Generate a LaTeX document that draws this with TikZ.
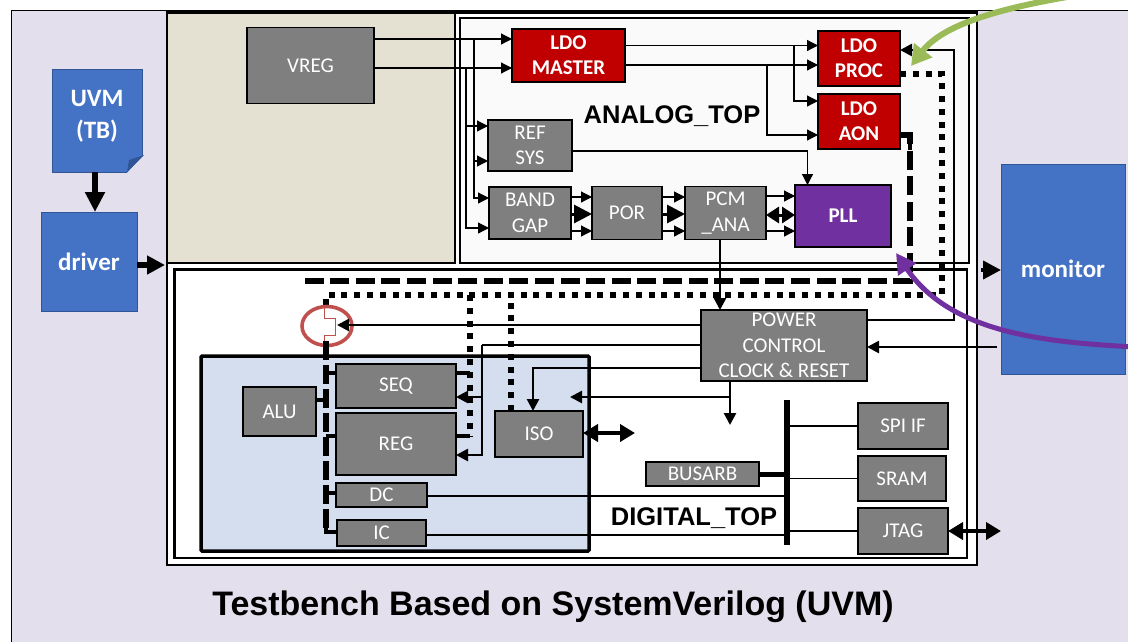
\documentclass[tikz,border=0pt]{standalone}
\usepackage{xcolor}
\usepackage{tikz}
\usepackage{fontspec}
\setmainfont{Carlito}
\newfontfamily\arialfont{Liberation Sans}
\definecolor{tblavender}{RGB}{228, 223, 236}
\definecolor{vregtan}{RGB}{228, 225, 210}
\definecolor{corepale}{RGB}{213, 222, 238}
\definecolor{boxgray}{RGB}{127, 127, 127}
\definecolor{ldored}{RGB}{192, 0, 0}
\definecolor{pllpurple}{RGB}{112, 48, 160}
\definecolor{uvmblue}{RGB}{68, 114, 196}
\definecolor{uvmedge}{RGB}{47, 85, 151}
\definecolor{ringred}{RGB}{192, 80, 77}
\definecolor{notegreen}{RGB}{155, 187, 89}
\usetikzlibrary{shapes.geometric, arrows.meta, positioning}

\begin{document}
\begin{tikzpicture}[
    x=1pt, y=-1pt,
    node distance=8pt,
    greybox/.style={rectangle, draw=black, fill=boxgray, line width=1.8pt,
                    inner sep=0pt, outer sep=0pt, align=center, text=white,
                    font=\fontsize{21}{25.5}\selectfont},
    ldobox/.style={greybox, fill=ldored, font=\fontsize{21}{25}\selectfont\bfseries},
    uvmbox/.style={rectangle, draw=uvmedge, fill=uvmblue, line width=1pt,
                   inner sep=0pt, outer sep=0pt, align=center, text=white,
                   font=\fontsize{25}{32}\selectfont\bfseries},
    framebox/.style={rectangle, draw=black, line width=2.6pt},
    toplabel/.style={inner sep=0pt, font=\arialfont\fontsize{25.5}{30}\selectfont\bfseries},
    wire/.style={line width=1.2pt, -{Triangle[length=11pt,width=11pt]}},
    plainwire/.style={line width=1.2pt},
    midwire/.style={line width=2.6pt, -{Triangle[length=12pt,width=12pt]}},
    fatwire/.style={line width=4pt, -{Triangle[length=18pt,width=18pt]}},
    fatboth/.style={line width=4pt, {Triangle[length=15pt,width=17pt]}-{Triangle[length=15pt,width=17pt]}},
    dashbus/.style={line width=5.5pt, dash pattern=on 19pt off 6.6pt},
    dotbus/.style={line width=5.5pt, dash pattern=on 6pt off 6.8pt},
    stub/.style={line width=4pt}
]
    \path[use as bounding box, clip] (0,0) rectangle (1128,641);
    % frames
    \path[fill=tblavender, draw=black, line width=1pt] (11,10) rectangle (1150,660);
    \path[framebox, fill=white] (167,12.5) rectangle (977,565);
    \path[framebox, fill=vregtan, line width=2pt] (167,13) rectangle (455,263);
    \path[framebox, fill=white!98!black] (460,18) rectangle (969,263);
    \path[framebox, fill=white] (174.5,269.5) rectangle (967,558);
    \path[framebox, fill=corepale, line width=3.5pt, rounded corners=1pt] (201,356) rectangle (589,551);

    % analog blocks
    \node[greybox, minimum width=127pt, minimum height=76pt] (vreg) at (310.5,65.5) {VREG};
    \node[ldobox, minimum width=113pt, minimum height=53pt] (ldomaster) at (568.5,55.5) {LDO\\MASTER};
    \node[ldobox, minimum width=82pt, minimum height=55pt] (ldoproc) at (859,58.5) {LDO\\PROC};
    \node[ldobox, minimum width=82pt, minimum height=55pt, below=8pt of ldoproc] (ldoaon) {LDO\\AON};
    \node[greybox, minimum width=84pt, minimum height=51pt] (refsys) at (530,145.5) {REF\\SYS};
    \node[greybox, minimum width=82pt, minimum height=52pt] (bandgap) at (530,213) {BAND\\GAP};
    \node[greybox, minimum width=70pt, minimum height=53pt, right=21pt of bandgap] (por) {POR};
    \node[greybox, minimum width=81pt, minimum height=53pt, right=23pt of por] (pcmana) {PCM\\\_ANA};
    \node[greybox, fill=pllpurple, minimum width=96pt, minimum height=62pt,
          font=\fontsize{21}{25}\selectfont\bfseries] (pll) at (843,216) {PLL};
    \node[toplabel] (analogtop) at (672,116) {ANALOG\_TOP};

    % digital blocks
    \node[greybox, minimum width=166pt, minimum height=71pt] (power) at (784,345.5) {POWER\\CONTROL\\CLOCK \& RESET};
    \node[greybox, minimum width=73pt, minimum height=49pt] (alu) at (279.5,411.5) {ALU};
    \node[greybox, minimum width=120pt, minimum height=44pt] (seq) at (396,386) {SEQ};
    \node[greybox, minimum width=120pt, minimum height=62pt] (reg) at (396,444) {REG};
    \node[greybox, minimum width=91pt, minimum height=24pt] (dc) at (381.5,495) {DC};
    \node[greybox, minimum width=89pt, minimum height=26pt] (ic) at (381.5,533) {IC};
    \node[greybox, minimum width=88pt, minimum height=46pt] (iso) at (539,434) {ISO};
    \node[greybox, minimum width=113pt, minimum height=24pt] (busarb) at (702.5,474) {BUSARB};
    \node[greybox, minimum width=90pt, minimum height=46pt] (spi) at (903,426) {SPI IF};
    \node[greybox, minimum width=88pt, minimum height=45pt] (sram) at (902,478.5) {SRAM};
    \node[greybox, minimum width=90pt, minimum height=46pt] (jtag) at (903,531) {JTAG};
    \node[toplabel] (digitaltop) at (694,518.5) {DIGITAL\_TOP};
    \coordinate (bustop) at (787,400);
    \coordinate (busend) at (787,545);

    % testbench blocks
    \node[uvmbox, minimum width=90pt, minimum height=103pt, text depth=12pt] (uvm) at (97,120.5) {UVM\\(TB)};
    \path[fill=tblavender] (127,173) -- (143.5,173) -- (143.5,155) -- cycle;
    \path[fill=uvmedge] (127,172) -- (129,160) -- (144,155) -- cycle;
    \node[uvmbox, minimum width=96pt, minimum height=99pt] (driver) at (89,261.5) {driver};
    \node[uvmbox, minimum width=124pt, minimum height=210pt] (monitor) at (1063,269) {monitor};
    \node[inner sep=0pt, font=\arialfont\fontsize{34}{40}\selectfont\bfseries] (title) at (553,607) {Testbench Based on SystemVerilog (UVM)};

    % vreg to analog
    \coordinate (tapa) at (474,39);
    \coordinate (tapb) at (466,68);
    \draw[wire] (vreg.east |- tapa) -- (ldomaster.west |- tapa);
    \draw[wire] (vreg.east |- tapb) -- (ldomaster.west |- tapb);
    \draw[wire] (tapa) |- (refsys.west |- 0,161);
    \draw[wire] (tapa) |- (bandgap.west |- 0,198);
    \draw[wire] (tapb) |- (refsys.west |- 0,126);
    \draw[wire] (tapb) |- (bandgap.west |- 0,228);

    % ldo feeds
    \coordinate (tapc) at (794,45.5);
    \coordinate (tapd) at (767,65);
    \draw[wire] (ldomaster.east |- tapc) -- (ldoproc.west |- tapc);
    \draw[wire] (ldomaster.east |- tapd) -- (ldoproc.west |- tapd);
    \draw[wire] (tapc) |- (ldoaon.west |- 0,101);
    \draw[wire] (tapd) |- (ldoaon.west |- 0,135);
    \draw[wire] (refsys.east |- 0,151) -| (pll.north -| 807.5,0);

    % analog chain
    \foreach \from/\to in {bandgap/por, por/pcmana}{
        \draw[wire] (\from.east |- 0,197) -- (\to.west |- 0,197);
        \draw[wire] (\from.east |- 0,231) -- (\to.west |- 0,231);
        \draw[line width=3pt, -{Triangle[length=18pt,width=18pt]}] (\from.east |- 0,214) -- (\to.west |- 0,214);
    }
    \draw[wire] (pcmana.east |- 0,196) -- (pll.west |- 0,196);
    \draw[wire] (pcmana.east |- 0,231) -- (pll.west |- 0,231);
    \draw[line width=3pt, {Triangle[length=13pt,width=16pt]}-{Triangle[length=13pt,width=16pt]}] (pcmana.east |- 0,215) -- (pll.west |- 0,215);
    \draw[midwire] (pcmana.south -| 720,0) -- (power.north -| 720,0);

    % power rails
    \coordinate (dashcorner) at (910,281);
    \coordinate (dashend) at (303,281);
    \coordinate (dotcorner) at (942,295);
    \coordinate (dotleft) at (326,295);
    \draw[dashbus] (ldoaon.east |- 0,135) -| (dashcorner) -- (dashend);
    \draw[stub] (ldoaon.east |- 0,135) -- (910,135) -- (910,150);
    \draw[dotbus] (ldoproc.east |- 0,74) -| (dotcorner) -- (dotleft) -- (326,309);
    \draw[dotbus] (470,295) -- (470,436);
    \draw[dotbus] (iso.north -| 511,0) -- (511,295);
    \draw[stub] (seq.east |- 0,373) -- (470,373);
    \draw[stub] (reg.east |- 0,436) -- (470,436);

    % clock gate
    \node[ellipse, draw=ringred, line width=3.6pt, minimum width=50pt, minimum height=39pt, inner sep=0pt] (clockring) at (327,326) {};
    \draw[ringred, line width=1pt] (324,308) -- (324,318) -- (335.5,318) -- (335.5,335) -- (324,335) -- (324,341);
    \coordinate (clocktip) at (337,325);
    \draw[midwire] (power.west |- clocktip) -- (clocktip);

    % gated clock
    \draw[dashbus, dash pattern=on 19pt off 5pt] (326,341) -- (326,532);
    \draw[stub] (seq.west |- 0,373) -- (326,373);
    \draw[stub] (alu.east |- 0,400) -- (326,400);
    \draw[stub] (reg.west |- 0,436) -- (326,436);
    \draw[stub] (dc.west |- 0,493) -- (326,493) -- (326,503);
    \draw[stub] (ic.west |- 0,532) -- (326,532) -- (326,522);

    % power control outputs
    \coordinate (tape) at (482,345);
    \coordinate (tapf) at (730,397);
    \coordinate (isotip) at (570,397);
    \coordinate (floattip) at (730,425);
    \draw[line width=2.6pt] (power.west |- tape) -- (tape);
    \draw[midwire] (tape) |- (reg.east |- 0,455);
    \draw[midwire] (tape) |- (seq.east |- 0,397);
    \draw[midwire] (power.west |- 0,368) -| (iso.north -| 533,0);
    \draw[midwire] (power.south -| tapf) -- (floattip);
    \draw[midwire] (tapf) -- (isotip);
    \draw[midwire] (power.east |- 0,320) -| (954,50) -- (ldoproc.east |- 0,50);
    \coordinate (monout) at (997,347);
    \draw[midwire] (monout) -- (power.east |- monout);

    % bus
    \draw[line width=5.5pt] (bustop) -- (busend);
    \draw[line width=5pt] (busarb.east) -- (busarb.east -| bustop);
    \draw[plainwire] (spi.west) -- (spi.west -| bustop);
    \draw[plainwire] (sram.west) -- (sram.west -| bustop);
    \draw[plainwire] (jtag.west) -- (jtag.west -| bustop);
    \draw[plainwire] (dc.east |- 0,496) -- (bustop |- 0,496);
    \draw[plainwire] (ic.east |- 0,535) -- (bustop |- 0,535);

    % ports
    \coordinate (isoport) at (635,433);
    \coordinate (dutleft) at (165,265);
    \coordinate (dutright) at (981,270);
    \draw[fatboth] (iso.east |- isoport) -- (isoport);
    \draw[fatboth] (jtag.east |- 0,531) -- (monitor.west |- 0,531);
    \draw[line width=6.5pt, -{Triangle[length=20pt,width=19pt]}] (uvm.south -| 95,0) -- (driver.north -| 95,0);
    \draw[fatwire, line width=6pt] (driver.east |- dutleft) -- (dutleft);
    \draw[fatwire] (dutright) -- (monitor.west |- dutright);

    % callouts
    \coordinate (greenfrom) at (1085,-6);
    \coordinate (greento) at (911,66);
    \coordinate (purplefrom) at (1135,347);
    \coordinate (purpleto) at (896,253);
    \draw[notegreen, line width=6pt, -{Triangle[length=20pt,width=22pt]}] (greenfrom) .. controls (1010,6) and (945,22) .. (greento);
    \draw[pllpurple, line width=5pt, -{Triangle[length=20pt,width=21pt]}] (purplefrom) .. controls (1040,342) and (950,332) .. (purpleto);
\end{tikzpicture}
\end{document}
